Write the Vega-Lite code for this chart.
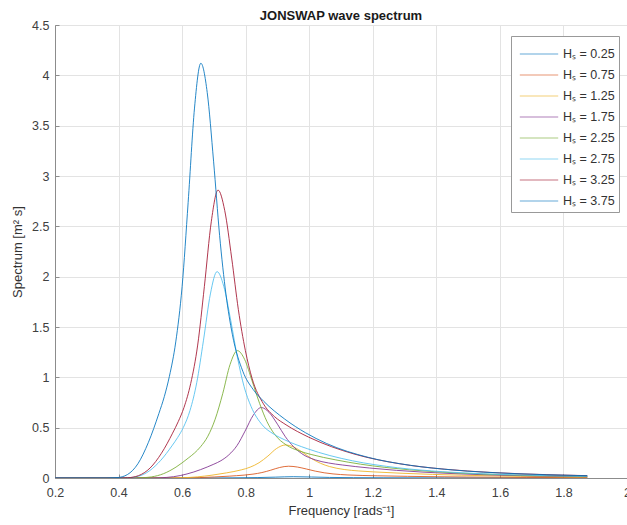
{
  "$schema": "https://vega.github.io/schema/vega-lite/v6.json",
  "autosize": "none",
  "padding": {"left": 55, "top": 25, "right": 0, "bottom": 47},
  "width": 572,
  "height": 453,
  "background": "white",
  "config": {
    "font": "Liberation Sans",
    "view": {"stroke": "#8c8c8c", "strokeWidth": 1}
  },
  "title": {"text": "JONSWAP wave spectrum", "fontSize": 13, "fontWeight": "bold", "color": "#1a1a1a", "offset": -4, "font": "Liberation Sans"},
  "datasets": {
    "spec": [
      {"h":"Hₛ = 0.25","w":0.2,"s":0},{"h":"Hₛ = 0.25","w":0.57,"s":0},{"h":"Hₛ = 0.25","w":0.665,"s":0.0004},{"h":"Hₛ = 0.25","w":0.76,"s":0.002},{"h":"Hₛ = 0.25","w":0.836,"s":0.0042},{"h":"Hₛ = 0.25","w":0.893,"s":0.0085},{"h":"Hₛ = 0.25","w":0.95,"s":0.0128},{"h":"Hₛ = 0.25","w":1.007,"s":0.0098},{"h":"Hₛ = 0.25","w":1.064,"s":0.0057},{"h":"Hₛ = 0.25","w":1.14,"s":0.0033},{"h":"Hₛ = 0.25","w":1.235,"s":0.0024},{"h":"Hₛ = 0.25","w":1.425,"s":0.0014},{"h":"Hₛ = 0.25","w":1.71,"s":0.0006},{"h":"Hₛ = 0.25","w":1.875,"s":0.0004},

      {"h":"Hₛ = 0.75","w":0.2,"s":0},{"h":"Hₛ = 0.75","w":0.514,"s":0},{"h":"Hₛ = 0.75","w":0.561,"s":0.0001},{"h":"Hₛ = 0.75","w":0.608,"s":0.001},{"h":"Hₛ = 0.75","w":0.655,"s":0.004},{"h":"Hₛ = 0.75","w":0.701,"s":0.0101},{"h":"Hₛ = 0.75","w":0.748,"s":0.0182},{"h":"Hₛ = 0.75","w":0.771,"s":0.023},{"h":"Hₛ = 0.75","w":0.795,"s":0.0287},{"h":"Hₛ = 0.75","w":0.823,"s":0.0384},{"h":"Hₛ = 0.75","w":0.851,"s":0.054},{"h":"Hₛ = 0.75","w":0.879,"s":0.0777},{"h":"Hₛ = 0.75","w":0.907,"s":0.1044},{"h":"Hₛ = 0.75","w":0.935,"s":0.117},{"h":"Hₛ = 0.75","w":0.963,"s":0.1088},{"h":"Hₛ = 0.75","w":0.991,"s":0.0894},{"h":"Hₛ = 0.75","w":1.019,"s":0.0684},{"h":"Hₛ = 0.75","w":1.047,"s":0.0518},{"h":"Hₛ = 0.75","w":1.075,"s":0.0406},{"h":"Hₛ = 0.75","w":1.122,"s":0.0301},{"h":"Hₛ = 0.75","w":1.169,"s":0.0249},{"h":"Hₛ = 0.75","w":1.216,"s":0.0216},{"h":"Hₛ = 0.75","w":1.309,"s":0.0166},{"h":"Hₛ = 0.75","w":1.403,"s":0.0127},{"h":"Hₛ = 0.75","w":1.496,"s":0.0098},{"h":"Hₛ = 0.75","w":1.683,"s":0.0058},{"h":"Hₛ = 0.75","w":1.875,"s":0.0035},

      {"h":"Hₛ = 1.25","w":0.2,"s":0},{"h":"Hₛ = 1.25","w":0.509,"s":0},{"h":"Hₛ = 1.25","w":0.555,"s":0.0003},{"h":"Hₛ = 1.25","w":0.601,"s":0.0027},{"h":"Hₛ = 1.25","w":0.648,"s":0.0113},{"h":"Hₛ = 1.25","w":0.694,"s":0.0282},{"h":"Hₛ = 1.25","w":0.74,"s":0.0511},{"h":"Hₛ = 1.25","w":0.763,"s":0.0644},{"h":"Hₛ = 1.25","w":0.786,"s":0.0804},{"h":"Hₛ = 1.25","w":0.814,"s":0.1076},{"h":"Hₛ = 1.25","w":0.842,"s":0.1514},{"h":"Hₛ = 1.25","w":0.87,"s":0.218},{"h":"Hₛ = 1.25","w":0.897,"s":0.2925},{"h":"Hₛ = 1.25","w":0.925,"s":0.328},{"h":"Hₛ = 1.25","w":0.953,"s":0.3049},{"h":"Hₛ = 1.25","w":0.981,"s":0.2506},{"h":"Hₛ = 1.25","w":1.008,"s":0.1919},{"h":"Hₛ = 1.25","w":1.036,"s":0.1453},{"h":"Hₛ = 1.25","w":1.064,"s":0.1137},{"h":"Hₛ = 1.25","w":1.11,"s":0.0844},{"h":"Hₛ = 1.25","w":1.156,"s":0.0699},{"h":"Hₛ = 1.25","w":1.203,"s":0.0606},{"h":"Hₛ = 1.25","w":1.295,"s":0.0466},{"h":"Hₛ = 1.25","w":1.388,"s":0.0357},{"h":"Hₛ = 1.25","w":1.48,"s":0.0274},{"h":"Hₛ = 1.25","w":1.665,"s":0.0163},{"h":"Hₛ = 1.25","w":1.85,"s":0.01},{"h":"Hₛ = 1.25","w":1.875,"s":0.0094},

      {"h":"Hₛ = 1.75","w":0.2,"s":0},{"h":"Hₛ = 1.75","w":0.467,"s":0},{"h":"Hₛ = 1.75","w":0.509,"s":0.0006},{"h":"Hₛ = 1.75","w":0.552,"s":0.0058},{"h":"Hₛ = 1.75","w":0.594,"s":0.0242},{"h":"Hₛ = 1.75","w":0.637,"s":0.0602},{"h":"Hₛ = 1.75","w":0.679,"s":0.109},{"h":"Hₛ = 1.75","w":0.7,"s":0.1374},{"h":"Hₛ = 1.75","w":0.722,"s":0.1716},{"h":"Hₛ = 1.75","w":0.747,"s":0.2297},{"h":"Hₛ = 1.75","w":0.773,"s":0.3232},{"h":"Hₛ = 1.75","w":0.798,"s":0.4652},{"h":"Hₛ = 1.75","w":0.824,"s":0.6243},{"h":"Hₛ = 1.75","w":0.849,"s":0.7},{"h":"Hₛ = 1.75","w":0.874,"s":0.6507},{"h":"Hₛ = 1.75","w":0.9,"s":0.5347},{"h":"Hₛ = 1.75","w":0.925,"s":0.4095},{"h":"Hₛ = 1.75","w":0.951,"s":0.3101},{"h":"Hₛ = 1.75","w":0.976,"s":0.2426},{"h":"Hₛ = 1.75","w":1.019,"s":0.1802},{"h":"Hₛ = 1.75","w":1.061,"s":0.1491},{"h":"Hₛ = 1.75","w":1.104,"s":0.1294},{"h":"Hₛ = 1.75","w":1.189,"s":0.0994},{"h":"Hₛ = 1.75","w":1.274,"s":0.0762},{"h":"Hₛ = 1.75","w":1.358,"s":0.0584},{"h":"Hₛ = 1.75","w":1.528,"s":0.0348},{"h":"Hₛ = 1.75","w":1.698,"s":0.0214},{"h":"Hₛ = 1.75","w":1.875,"s":0.0134},

      {"h":"Hₛ = 2.25","w":0.2,"s":0},{"h":"Hₛ = 2.25","w":0.426,"s":0},{"h":"Hₛ = 2.25","w":0.464,"s":0.0011},{"h":"Hₛ = 2.25","w":0.503,"s":0.0105},{"h":"Hₛ = 2.25","w":0.542,"s":0.0436},{"h":"Hₛ = 2.25","w":0.581,"s":0.1088},{"h":"Hₛ = 2.25","w":0.619,"s":0.197},{"h":"Hₛ = 2.25","w":0.639,"s":0.2483},{"h":"Hₛ = 2.25","w":0.658,"s":0.3102},{"h":"Hₛ = 2.25","w":0.681,"s":0.415},{"h":"Hₛ = 2.25","w":0.704,"s":0.5841},{"h":"Hₛ = 2.25","w":0.728,"s":0.8406},{"h":"Hₛ = 2.25","w":0.751,"s":1.1283},{"h":"Hₛ = 2.25","w":0.774,"s":1.265},{"h":"Hₛ = 2.25","w":0.797,"s":1.1759},{"h":"Hₛ = 2.25","w":0.82,"s":0.9663},{"h":"Hₛ = 2.25","w":0.844,"s":0.74},{"h":"Hₛ = 2.25","w":0.867,"s":0.5604},{"h":"Hₛ = 2.25","w":0.89,"s":0.4384},{"h":"Hₛ = 2.25","w":0.929,"s":0.3256},{"h":"Hₛ = 2.25","w":0.968,"s":0.2694},{"h":"Hₛ = 2.25","w":1.006,"s":0.2338},{"h":"Hₛ = 2.25","w":1.084,"s":0.1796},{"h":"Hₛ = 2.25","w":1.161,"s":0.1376},{"h":"Hₛ = 2.25","w":1.238,"s":0.1055},{"h":"Hₛ = 2.25","w":1.393,"s":0.0629},{"h":"Hₛ = 2.25","w":1.548,"s":0.0387},{"h":"Hₛ = 2.25","w":1.703,"s":0.0246},{"h":"Hₛ = 2.25","w":1.875,"s":0.0154},

      {"h":"Hₛ = 2.75","w":0.2,"s":0},{"h":"Hₛ = 2.75","w":0.391,"s":0},{"h":"Hₛ = 2.75","w":0.426,"s":0.0018},{"h":"Hₛ = 2.75","w":0.462,"s":0.017},{"h":"Hₛ = 2.75","w":0.497,"s":0.0707},{"h":"Hₛ = 2.75","w":0.533,"s":0.1763},{"h":"Hₛ = 2.75","w":0.568,"s":0.3192},{"h":"Hₛ = 2.75","w":0.586,"s":0.4024},{"h":"Hₛ = 2.75","w":0.604,"s":0.5027},{"h":"Hₛ = 2.75","w":0.625,"s":0.6726},{"h":"Hₛ = 2.75","w":0.646,"s":0.9465},{"h":"Hₛ = 2.75","w":0.667,"s":1.3622},{"h":"Hₛ = 2.75","w":0.689,"s":1.8284},{"h":"Hₛ = 2.75","w":0.71,"s":2.05},{"h":"Hₛ = 2.75","w":0.731,"s":1.9057},{"h":"Hₛ = 2.75","w":0.753,"s":1.566},{"h":"Hₛ = 2.75","w":0.774,"s":1.1993},{"h":"Hₛ = 2.75","w":0.795,"s":0.9082},{"h":"Hₛ = 2.75","w":0.817,"s":0.7105},{"h":"Hₛ = 2.75","w":0.852,"s":0.5277},{"h":"Hₛ = 2.75","w":0.888,"s":0.4367},{"h":"Hₛ = 2.75","w":0.923,"s":0.3788},{"h":"Hₛ = 2.75","w":0.994,"s":0.2911},{"h":"Hₛ = 2.75","w":1.065,"s":0.223},{"h":"Hₛ = 2.75","w":1.136,"s":0.171},{"h":"Hₛ = 2.75","w":1.278,"s":0.1019},{"h":"Hₛ = 2.75","w":1.42,"s":0.0627},{"h":"Hₛ = 2.75","w":1.562,"s":0.0399},{"h":"Hₛ = 2.75","w":1.775,"s":0.0215},{"h":"Hₛ = 2.75","w":1.875,"s":0.0164},

      {"h":"Hₛ = 3.25","w":0.2,"s":0},{"h":"Hₛ = 3.25","w":0.392,"s":0.0001},{"h":"Hₛ = 3.25","w":0.428,"s":0.0025},{"h":"Hₛ = 3.25","w":0.463,"s":0.0237},{"h":"Hₛ = 3.25","w":0.499,"s":0.0987},{"h":"Hₛ = 3.25","w":0.535,"s":0.246},{"h":"Hₛ = 3.25","w":0.57,"s":0.4453},{"h":"Hₛ = 3.25","w":0.588,"s":0.5614},{"h":"Hₛ = 3.25","w":0.606,"s":0.7013},{"h":"Hₛ = 3.25","w":0.627,"s":0.9384},{"h":"Hₛ = 3.25","w":0.649,"s":1.3205},{"h":"Hₛ = 3.25","w":0.67,"s":1.9005},{"h":"Hₛ = 3.25","w":0.692,"s":2.5508},{"h":"Hₛ = 3.25","w":0.713,"s":2.86},{"h":"Hₛ = 3.25","w":0.734,"s":2.6587},{"h":"Hₛ = 3.25","w":0.756,"s":2.1848},{"h":"Hₛ = 3.25","w":0.777,"s":1.6731},{"h":"Hₛ = 3.25","w":0.799,"s":1.267},{"h":"Hₛ = 3.25","w":0.82,"s":0.9913},{"h":"Hₛ = 3.25","w":0.856,"s":0.7362},{"h":"Hₛ = 3.25","w":0.891,"s":0.6092},{"h":"Hₛ = 3.25","w":0.927,"s":0.5285},{"h":"Hₛ = 3.25","w":0.998,"s":0.4061},{"h":"Hₛ = 3.25","w":1.07,"s":0.3112},{"h":"Hₛ = 3.25","w":1.141,"s":0.2385},{"h":"Hₛ = 3.25","w":1.283,"s":0.1421},{"h":"Hₛ = 3.25","w":1.426,"s":0.0875},{"h":"Hₛ = 3.25","w":1.569,"s":0.0557},{"h":"Hₛ = 3.25","w":1.783,"s":0.03},{"h":"Hₛ = 3.25","w":1.875,"s":0.0234},

      {"h":"Hₛ = 3.75","w":0.2,"s":0},{"h":"Hₛ = 3.75","w":0.362,"s":0.0001},{"h":"Hₛ = 3.75","w":0.395,"s":0.0036},{"h":"Hₛ = 3.75","w":0.428,"s":0.0342},{"h":"Hₛ = 3.75","w":0.461,"s":0.1421},{"h":"Hₛ = 3.75","w":0.494,"s":0.3543},{"h":"Hₛ = 3.75","w":0.527,"s":0.6415},{"h":"Hₛ = 3.75","w":0.544,"s":0.8088},{"h":"Hₛ = 3.75","w":0.56,"s":1.0102},{"h":"Hₛ = 3.75","w":0.58,"s":1.3518},{"h":"Hₛ = 3.75","w":0.6,"s":1.9022},{"h":"Hₛ = 3.75","w":0.619,"s":2.7377},{"h":"Hₛ = 3.75","w":0.639,"s":3.6746},{"h":"Hₛ = 3.75","w":0.659,"s":4.12},{"h":"Hₛ = 3.75","w":0.679,"s":3.83},{"h":"Hₛ = 3.75","w":0.699,"s":3.1473},{"h":"Hₛ = 3.75","w":0.718,"s":2.4102},{"h":"Hₛ = 3.75","w":0.738,"s":1.8252},{"h":"Hₛ = 3.75","w":0.758,"s":1.428},{"h":"Hₛ = 3.75","w":0.791,"s":1.0605},{"h":"Hₛ = 3.75","w":0.824,"s":0.8776},{"h":"Hₛ = 3.75","w":0.857,"s":0.7614},{"h":"Hₛ = 3.75","w":0.923,"s":0.585},{"h":"Hₛ = 3.75","w":0.989,"s":0.4483},{"h":"Hₛ = 3.75","w":1.054,"s":0.3436},{"h":"Hₛ = 3.75","w":1.186,"s":0.2048},{"h":"Hₛ = 3.75","w":1.318,"s":0.1261},{"h":"Hₛ = 3.75","w":1.45,"s":0.0802},{"h":"Hₛ = 3.75","w":1.648,"s":0.0432},{"h":"Hₛ = 3.75","w":1.845,"s":0.0248},{"h":"Hₛ = 3.75","w":1.875,"s":0.0229}
    ]
  },
  "data": {"name": "spec"},
  "mark": {"type": "line", "interpolate": "monotone", "strokeWidth": 1, "strokeOpacity": 0.85, "clip": true},
  "encoding": {
    "x": {
      "field": "w", "type": "quantitative",
      "scale": {"domain": [0.2, 2], "nice": false, "zero": false},
      "axis": {
        "title": "Frequency [rads⁻¹]", "titleFont": "Liberation Sans", "titleFontSize": 13, "titleFontWeight": "normal", "titleColor": "#333333", "titlePadding": 6,
        "values": [0.2, 0.4, 0.6, 0.8, 1, 1.2, 1.4, 1.6, 1.8, 2], "format": "~g",
        "labelFont": "Liberation Sans", "labelFontSize": 12.5, "labelColor": "#404040", "labelPadding": 12, "labelFlush": false,
        "domainColor": "#8c8c8c", "tickColor": "#8c8c8c", "tickSize": -4, "labelOverlap": false,
        "gridColor": "#e3e3e3"
      }
    },
    "y": {
      "field": "s", "type": "quantitative",
      "scale": {"domain": [0, 4.5], "nice": false},
      "axis": {
        "title": "Spectrum [m² s]", "titleFont": "Liberation Sans", "titleFontSize": 13, "titleFontWeight": "normal", "titleColor": "#333333", "titlePadding": 7,
        "values": [0, 0.5, 1, 1.5, 2, 2.5, 3, 3.5, 4, 4.5], "format": "~g",
        "labelFont": "Liberation Sans", "labelFontSize": 12.5, "labelColor": "#404040", "labelPadding": 10, "labelFlush": false,
        "domainColor": "#8c8c8c", "tickColor": "#8c8c8c", "tickSize": -4,
        "gridColor": "#e3e3e3"
      }
    },
    "color": {
      "field": "h", "type": "nominal",
      "scale": {
        "domain": ["Hₛ = 0.25", "Hₛ = 0.75", "Hₛ = 1.25", "Hₛ = 1.75", "Hₛ = 2.25", "Hₛ = 2.75", "Hₛ = 3.25", "Hₛ = 3.75"],
        "range": ["#0072BD", "#D95319", "#EDB120", "#7E2F8E", "#77AC30", "#4DBEEE", "#A2142F", "#0072BD"]
      },
      "legend": {
        "title": null, "orient": "none", "legendX": 456, "legendY": 11,
        "symbolType": "M-1.45,0H1.45", "symbolSize": 700, "symbolStrokeWidth": 1.2, "symbolOpacity": 0.6, "symbolOffset": 10,
        "labelFont": "Liberation Sans", "labelFontSize": 12.5, "labelColor": "#333333", "labelOffset": 10,
        "fillColor": "white", "strokeColor": "#999999", "padding": 4, "rowPadding": 0
      }
    }
  }
}
